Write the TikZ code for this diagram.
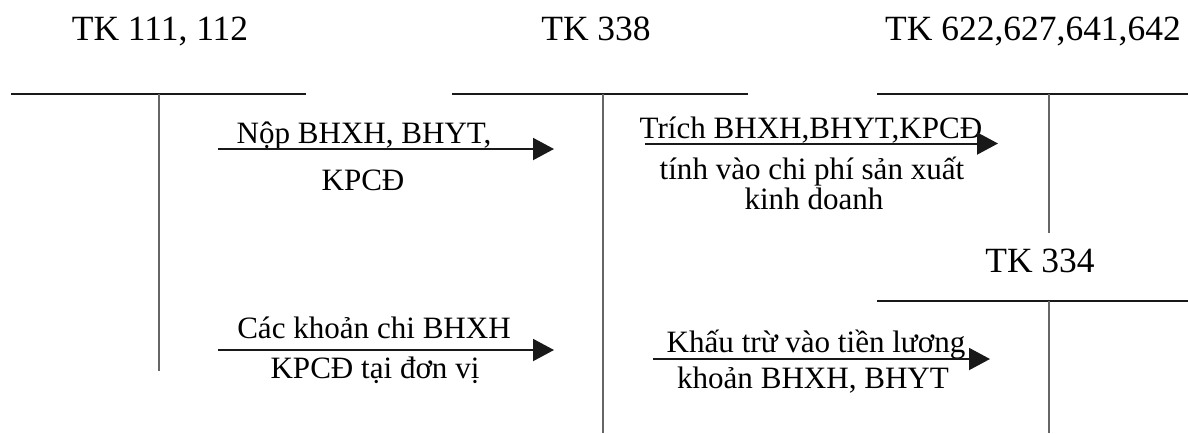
\documentclass[tikz,border=0pt]{standalone}
\usepackage{fontspec}
\setmainfont{Liberation Serif}
\usetikzlibrary{arrows.meta}
\begin{document}
\begin{tikzpicture}[x=0.75pt,y=-0.75pt,
  title/.style={anchor=base,font=\fontsize{26.6}{31}\selectfont,inner sep=0pt},
  lbl/.style={anchor=base,font=\fontsize{23.3}{27}\selectfont,inner sep=0pt},
  hline/.style={line width=1.1pt,draw=black!90},
  vline/.style={line width=0.8pt,draw=black!60},
  arr/.style={line width=1.5pt,draw=black!90,-{Triangle[length=15.75pt,width=16.5pt]}}]
\useasboundingbox (0,0) rectangle (1188,433);

% account titles
\node[title] (t111) at (160,40) {TK 111, 112};
\node[title] (t338) at (596,40) {TK 338};
\node[title] (t622) at (1033,40) {TK 622,627,641,642};
\node[title] (t334) at (1040,272) {TK 334};

% T-accounts
\draw[hline] (11,94) -- (306,94);
\draw[vline] (159,94) -- (159,371);
\draw[hline] (452,94) -- (748,94);
\draw[vline] (603,94) -- (603,433);
\draw[hline] (877,94) -- (1188,94);
\draw[vline] (1049,94) -- (1049,233);
\draw[hline] (877,301) -- (1188,301);
\draw[vline] (1049,301) -- (1049,433);

% arrow end points
\coordinate (a1s) at (218,149);
\coordinate (a1e) at (554,149);
\coordinate (a2s) at (645,143.5);
\coordinate (a2e) at (998,143.5);
\coordinate (a3s) at (218,350);
\coordinate (a3e) at (554,350);
\coordinate (a4s) at (653,359);
\coordinate (a4e) at (990,359);

% labels
\node[lbl] (l1a) at (364,143) {Nộp BHXH, BHYT,};
\node[lbl] (l1b) at (363,190) {KPCĐ};
\node[lbl] (l2a) at (811,138) {Trích BHXH,BHYT,KPCĐ};
\node[lbl] (l2b) at (812,179) {tính vào chi phí sản xuất};
\node[lbl] (l2c) at (814,209) {kinh doanh};
\node[lbl] (l3a) at (374,338) {Các khoản chi BHXH};
\node[lbl] (l3b) at (375,378) {KPCĐ tại đơn vị};
\node[lbl] (l4a) at (816,352) {Khấu trừ vào tiền lương};
\node[lbl] (l4b) at (813,388) {khoản BHXH, BHYT};

% arrows
\draw[arr] (a1s) -- (a1e);
\draw[arr] (a2s) -- (a2e);
\draw[arr] (a3s) -- (a3e);
\draw[arr] (a4s) -- (a4e);
\end{tikzpicture}
\end{document}
